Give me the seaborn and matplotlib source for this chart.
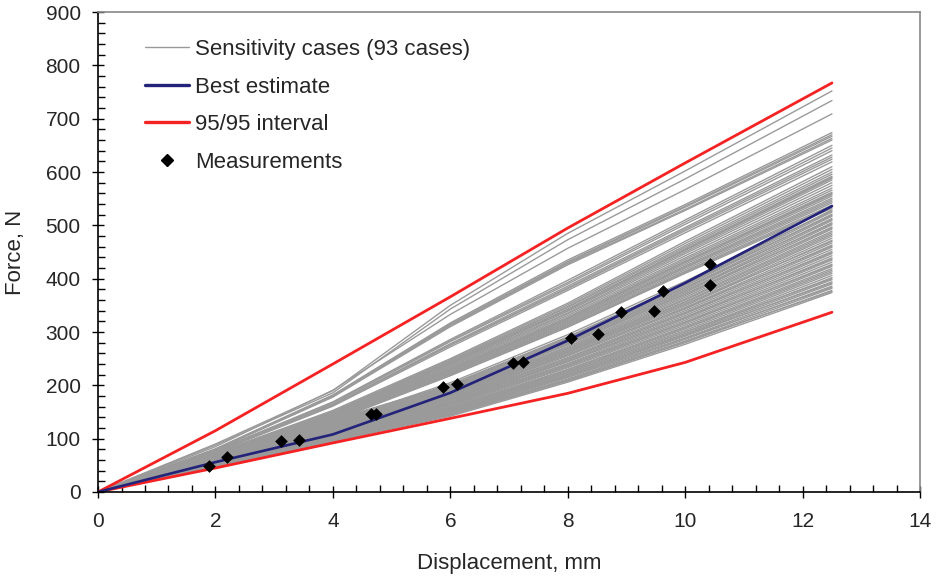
import numpy as np
import pandas as pd
import matplotlib
matplotlib.use("Agg")
import matplotlib.pyplot as plt
from matplotlib.lines import Line2D
from matplotlib.ticker import MultipleLocator
import seaborn as sns

# ---------------- data ----------------
x_nodes = [0, 2, 4, 6, 8, 10, 12.5]

best_estimate = [0, 56, 108, 186, 284, 392, 536]
upper_9595 = [0, 115, 240, 366, 495, 617, 767]
lower_9595 = [0, 45, 92, 138, 185, 243, 337]

meas_x = [1.89, 2.19, 3.11, 3.42, 4.65, 4.74, 5.88, 6.11, 7.07, 7.23,
          8.06, 8.52, 8.90, 9.47, 9.63, 10.42, 10.42]
meas_y = [49, 66, 95, 98, 146, 146, 197, 202, 242, 244,
          289, 296, 337, 340, 377, 428, 388]

# sensitivity cases: values at x = 2, 4, 6, 8, 10, 12.5 (value at 0 is 0)
sensitivity_cases = [
    [90, 190, 350, 485, 602, 752], [88, 186, 343, 473, 587, 734],
    [85, 191, 333, 457, 567, 709], [81, 182, 317, 435, 539, 674],
    [80, 181, 315, 432, 536, 670], [80, 180, 313, 430, 534, 667],
    [79, 179, 312, 428, 530, 663], [79, 178, 310, 426, 528, 660],
    [78, 169, 286, 397, 510, 650], [77, 168, 284, 393, 506, 645],
    [77, 166, 282, 390, 502, 640], [76, 164, 278, 386, 496, 632],
    [75, 163, 276, 383, 493, 628], [75, 162, 275, 381, 490, 624],
    [74, 161, 272, 378, 486, 619],
    [73, 153, 250, 354, 470, 610], [73, 151, 248, 351, 466, 605],
    [72, 150, 246, 348, 462, 600], [72, 149, 244, 346, 459, 596],
    [71, 148, 243, 343, 456, 592], [71, 148, 242, 342, 454, 590],
    [71, 147, 241, 341, 453, 588], [70, 146, 240, 339, 450, 585],
    [70, 145, 238, 336, 447, 580], [69, 144, 236, 334, 443, 575],
    [68, 143, 234, 331, 439, 570], [68, 142, 232, 328, 436, 566],
    [67, 141, 230, 326, 433, 562], [67, 140, 230, 325, 431, 560],
    [67, 140, 229, 324, 430, 558], [67, 139, 228, 322, 427, 555],
    [66, 138, 226, 320, 424, 551], [66, 137, 225, 318, 422, 548],
    [65, 136, 223, 316, 420, 545], [65, 136, 222, 314, 417, 542],
    [65, 135, 221, 312, 414, 538], [64, 134, 219, 310, 412, 535],
    [64, 133, 218, 309, 410, 532],
    [66, 135, 201, 291, 391, 529], [64, 130, 205, 295, 395, 527],
    [66, 134, 200, 289, 389, 525], [65, 133, 198, 287, 386, 521],
    [63, 128, 202, 290, 389, 519], [65, 132, 196, 284, 383, 517],
    [64, 131, 195, 282, 380, 513], [62, 127, 199, 286, 383, 511],
    [64, 130, 193, 280, 377, 509], [63, 129, 192, 278, 374, 505],
    [61, 125, 196, 281, 377, 503], [63, 128, 190, 276, 371, 501],
    [62, 127, 189, 273, 368, 497], [60, 123, 193, 277, 371, 495],
    [62, 126, 187, 271, 365, 493], [61, 125, 186, 269, 362, 489],
    [61, 124, 185, 267, 360, 486], [60, 123, 184, 266, 357, 483],
    [60, 122, 182, 264, 355, 480], [60, 121, 181, 262, 352, 476],
    [59, 120, 179, 260, 349, 472], [57, 117, 183, 263, 352, 470],
    [58, 119, 177, 257, 346, 467], [58, 118, 176, 255, 343, 463],
    [56, 115, 180, 258, 345, 461], [57, 117, 174, 252, 340, 459],
    [57, 116, 173, 250, 337, 455], [56, 115, 171, 248, 334, 451],
    [55, 112, 175, 251, 336, 449], [56, 114, 170, 246, 331, 447],
    [55, 113, 168, 244, 328, 443], [55, 112, 167, 241, 325, 439],
    [53, 109, 170, 245, 327, 437], [54, 111, 165, 239, 322, 435],
    [54, 110, 164, 237, 319, 431], [53, 109, 162, 235, 316, 427],
    [52, 106, 166, 238, 318, 425], [53, 108, 161, 233, 313, 423],
    [52, 107, 159, 230, 310, 419], [52, 106, 158, 229, 308, 416],
    [52, 105, 157, 227, 306, 413], [51, 105, 156, 226, 303, 410],
    [51, 104, 154, 223, 300, 406], [50, 103, 153, 221, 297, 402],
    [49, 100, 156, 224, 300, 400], [50, 101, 151, 219, 295, 398],
    [49, 100, 150, 217, 292, 394], [48, 98, 153, 219, 294, 392],
    [49, 99, 148, 215, 289, 390], [48, 98, 147, 212, 286, 386],
    [47, 96, 150, 215, 288, 384], [48, 97, 145, 210, 283, 382],
    [47, 96, 144, 208, 280, 378], [46, 94, 147, 210, 282, 376],
    [47, 95, 142, 206, 277, 374],
]

x_ticks = [0, 2, 4, 6, 8, 10, 12, 14]
y_ticks = [0, 100, 200, 300, 400, 500, 600, 700, 800, 900]

# ---------------- build tables ----------------
rows = []
for i, case in enumerate(sensitivity_cases):
    vals = [0] + list(case)
    for xv, yv in zip(x_nodes, vals):
        rows.append({"case": i, "x": xv, "y": yv})
df_sens = pd.DataFrame(rows)
df_best = pd.DataFrame({"x": x_nodes, "y": best_estimate})
df_up = pd.DataFrame({"x": x_nodes, "y": upper_9595})
df_lo = pd.DataFrame({"x": x_nodes, "y": lower_9595})
df_meas = pd.DataFrame({"x": meas_x, "y": meas_y})

# ---------------- style ----------------
sns.set_theme(style="white")
plt.rcParams["font.family"] = ["Liberation Sans", "DejaVu Sans"]

GREY = "#9a9a9a"
BLUE = "#23237a"
RED = "#f42222"

fig = plt.figure(figsize=(9.39, 5.81), dpi=100)
ax = fig.add_axes([0.1044, 0.1532, 0.8754, 0.8261])

sns.lineplot(data=df_sens, x="x", y="y", units="case", estimator=None,
             color=GREY, linewidth=1.0, ax=ax, legend=False, sort=False)
sns.lineplot(data=df_up, x="x", y="y", color=RED, linewidth=2.0, ax=ax, sort=False)
sns.lineplot(data=df_lo, x="x", y="y", color=RED, linewidth=2.0, ax=ax, sort=False)
sns.lineplot(data=df_best, x="x", y="y", color=BLUE, linewidth=1.9, ax=ax, sort=False)
sns.scatterplot(data=df_meas, x="x", y="y", marker="D", color="black",
                s=42, edgecolor="black", linewidth=0, ax=ax, zorder=5)

ax.set_xlim(0, 14)
ax.set_ylim(0, 900)
ax.set_xticks(x_ticks)
ax.set_yticks(y_ticks)
ax.xaxis.set_minor_locator(MultipleLocator(0.4))
ax.yaxis.set_minor_locator(MultipleLocator(20))
ax.tick_params(which="major", direction="inout", length=9, width=1.0,
               color="black", labelsize=15)
ax.tick_params(axis="x", which="major", pad=10)
ax.tick_params(axis="y", which="major", pad=8)
ax.tick_params(which="minor", direction="in", length=5, width=1.0, color="black")
ax.tick_params(axis="x", which="both", bottom=True, top=False)
ax.tick_params(axis="y", which="both", left=True, right=False)

for side in ["left", "bottom"]:
    ax.spines[side].set_color("black")
    ax.spines[side].set_linewidth(1.2)
for side in ["top", "right"]:
    ax.spines[side].set_color("#888888")
    ax.spines[side].set_linewidth(1.2)

ax.set_xlabel("Displacement, mm", fontsize=16, labelpad=16)
ax.set_ylabel("Force, N", fontsize=16, labelpad=14)

handles = [
    Line2D([], [], color=GREY, linewidth=1.0),
    Line2D([], [], color=BLUE, linewidth=2.4),
    Line2D([], [], color=RED, linewidth=2.4),
    Line2D([], [], color="black", marker="D", markersize=6, linestyle="none"),
]
labels = ["Sensitivity cases (93 cases)", "Best estimate", "95/95 interval",
          "Measurements"]
ax.legend(handles, labels, loc="upper left", bbox_to_anchor=(0.057, 0.944),
          frameon=False, fontsize=16, handlelength=2.0, handletextpad=0.25,
          labelspacing=0.75, borderaxespad=0, borderpad=0)

fig.savefig("out.png", dpi=100)
